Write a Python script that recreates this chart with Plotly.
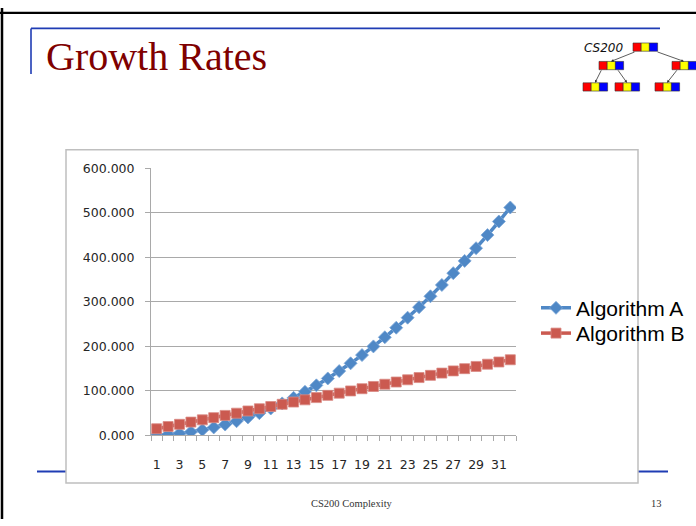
import plotly.graph_objects as go

W, H = 696, 526

# Problem sizes (categories on the x axis)
sizes = [1, 2, 3, 4, 5, 6, 7, 8, 9, 10, 11, 12, 13, 14, 15, 16,
         17, 18, 19, 20, 21, 22, 23, 24, 25, 26, 27, 28, 29, 30, 31, 32]

# Running time of each algorithm
algorithm_a = [0.5, 2, 4.5, 8, 12.5, 18, 24.5, 32, 40.5, 50, 60.5, 72,
               84.5, 98, 112.5, 128, 144.5, 162, 180.5, 200, 220.5, 242,
               264.5, 288, 312.5, 338, 364.5, 392, 420.5, 450, 480.5, 512]
algorithm_b = [15, 20, 25, 30, 35, 40, 45, 50, 55, 60, 65, 70, 75, 80, 85, 90,
               95, 100, 105, 110, 115, 120, 125, 130, 135, 140, 145, 150,
               155, 160, 165, 170]

x_tick_vals = [1, 3, 5, 7, 9, 11, 13, 15, 17, 19, 21, 23, 25, 27, 29, 31]
x_tick_text = [str(v) for v in x_tick_vals]
y_tick_vals = [0, 100, 200, 300, 400, 500, 600]

BLUE = "#4F88C6"
RED = "#CB5A50"
GRID = "#A9A9A9"


def px(x):
    return x / W


def py(y):
    return 1 - y / H


fig = go.Figure()
fig.add_trace(go.Scatter(
    x=sizes, y=algorithm_a, name="Algorithm A", mode="lines+markers",
    line=dict(color=BLUE, width=3.5),
    marker=dict(symbol="diamond", size=10, color=BLUE,
                line=dict(color="#7FA8D8", width=0.8)),
    legend="legend",
))
fig.add_trace(go.Scatter(
    x=sizes, y=algorithm_b, name="Algorithm B", mode="lines+markers",
    line=dict(color=RED, width=3.5),
    marker=dict(symbol="square", size=10, color=RED,
                line=dict(color="#D98A84", width=0.8)),
    legend="legend2",
))

shapes = []


def line(x0, y0, x1, y1, color, width, layer="below"):
    shapes.append(dict(type="line", xref="paper", yref="paper",
                       x0=px(x0), y0=py(y0), x1=px(x1), y1=py(y1),
                       line=dict(color=color, width=width), layer=layer))


# slide frame
line(0, 5, W, 5, "#000000", 2.2)
line(2, 0, 2, H, "#000000", 2.5)
# slide accent rules
line(31, 21, 660, 21, "#1F3CB4", 1.6)
line(31, 21, 31, 68, "#1F3CB4", 1.6)
line(37, 477, 668, 477, "#1F3CB4", 2)
# chart frame
shapes.append(dict(type="rect", xref="paper", yref="paper",
                   x0=px(66), y0=py(489), x1=px(638), y1=py(146),
                   fillcolor="white", line=dict(color="#BFBFBF", width=1.5),
                   layer="below"))

# tree logo nodes: each node is a red / yellow / blue strip
nodes = [(633, 36), (599, 55), (672, 55), (583, 77), (615, 77), (655, 77)]
cell_w, cell_h = 8.2, 8.5
for nx, ny in nodes:
    for i, c in enumerate(["#FF0000", "#FFFF00", "#0000FF"]):
        shapes.append(dict(type="rect", xref="paper", yref="paper",
                           x0=px(nx + i * cell_w), x1=px(nx + (i + 1) * cell_w),
                           y0=py(ny + cell_h), y1=py(ny),
                           fillcolor=c, line=dict(color="#333333", width=0.6),
                           layer="above"))

annotations = []
# tree logo edges (tail -> head)
edges = [((636, 45), (611, 55)), ((656, 45), (684, 55)),
         ((602, 63), (595, 77)), ((617, 63), (627, 77)),
         ((678, 63), (667, 77))]
for (tx, ty), (hx, hy) in edges:
    annotations.append(dict(x=px(hx), y=py(hy), xref="paper", yref="paper",
                            ax=tx - hx, ay=ty - hy, text="", showarrow=True,
                            arrowhead=2, arrowsize=0.7, arrowwidth=0.8,
                            arrowcolor="#333333"))

annotations += [
    dict(text="CS200", x=px(603), y=py(41), xref="paper", yref="paper",
         showarrow=False, xanchor="center", yanchor="middle",
         font=dict(family="DejaVu Sans", size=12, color="#111111", style="italic")),
    dict(text="Growth Rates", x=px(44), y=py(50), xref="paper", yref="paper",
         showarrow=False, xanchor="left", yanchor="middle",
         font=dict(family="Liberation Serif", size=40, color="#7F0000")),
    dict(text="CS200 Complexity", x=px(352), y=py(510), xref="paper", yref="paper",
         showarrow=False, xanchor="center", yanchor="middle",
         font=dict(family="Liberation Serif", size=10.5, color="#333333")),
    dict(text="13", x=px(656), y=py(510), xref="paper", yref="paper",
         showarrow=False, xanchor="center", yanchor="middle",
         font=dict(family="Liberation Serif", size=10.5, color="#333333")),
]

legend_font = dict(family="Liberation Sans", size=21, color="#000000")

fig.update_layout(
    width=W, height=H, autosize=False,
    margin=dict(l=0, r=0, t=0, b=0, pad=0),
    paper_bgcolor="white", plot_bgcolor="rgba(0,0,0,0)",
    showlegend=True,
    legend=dict(x=px(536), y=py(309), xanchor="left", yanchor="middle",
                bgcolor="rgba(0,0,0,0)", font=legend_font),
    legend2=dict(x=px(536), y=py(335), xanchor="left", yanchor="middle",
                 bgcolor="rgba(0,0,0,0)", font=legend_font),
    shapes=shapes, annotations=annotations,
    xaxis=dict(domain=[px(151), px(516)], range=[0.5, 32.5],
               tickmode="array", tickvals=x_tick_vals, ticktext=x_tick_text,
               ticks="", showline=True, linecolor=GRID, linewidth=1,
               showgrid=False, zeroline=False, ticklabelstandoff=18,
               minor=dict(ticks="outside", tick0=0.5, dtick=1, ticklen=5,
                          tickcolor=GRID, showgrid=False),
               tickfont=dict(family="DejaVu Sans", size=12.5, color="#262626")),
    yaxis=dict(domain=[py(440), py(165)], range=[0, 600],
               tickmode="array", tickvals=y_tick_vals, tickformat=".3f",
               ticks="outside", ticklen=5, tickcolor=GRID,
               showline=True, linecolor=GRID, linewidth=1,
               showgrid=True, gridcolor=GRID, gridwidth=1, zeroline=False,
               ticklabelstandoff=8,
               tickfont=dict(family="DejaVu Sans", size=12.5, color="#262626")),
)

fig.write_html("out.html")
